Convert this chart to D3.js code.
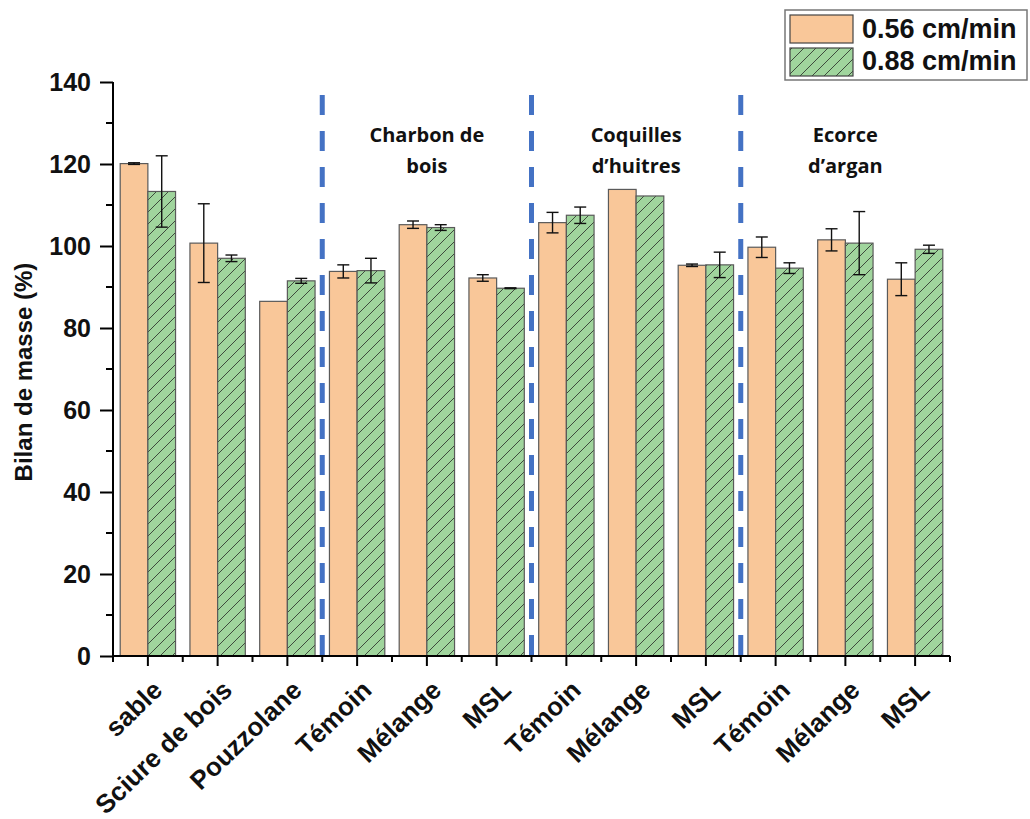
<!DOCTYPE html>
<html>
<head>
<meta charset="utf-8">
<script src="https://cdn.jsdelivr.net/npm/d3@7"></script>
<style>
  html, body { margin: 0; padding: 0; background: #fff; }
  svg { display: block; }
</style>
</head>
<body>
<script>
// ---------- data ----------
const categories = ["sable", "Sciure de bois", "Pouzzolane", "Témoin", "Mélange", "MSL",
                    "Témoin", "Mélange", "MSL", "Témoin", "Mélange", "MSL"];
const seriesNames = ["0.56 cm/min", "0.88 cm/min"];
const values056 = [120.1, 100.7, 86.5, 93.8, 105.2, 92.2, 105.7, 113.8, 95.3, 99.7, 101.5, 91.9];
const errors056 = [0.2, 9.6, 0, 1.6, 0.9, 0.8, 2.5, 0, 0.3, 2.5, 2.7, 4.0];
const values088 = [113.3, 97.0, 91.5, 94.0, 104.5, 89.7, 107.5, 112.2, 95.4, 94.6, 100.7, 99.2];
const errors088 = [8.7, 0.8, 0.6, 3.0, 0.7, 0.1, 2.0, 0, 3.1, 1.3, 7.7, 1.0];
const yTicks = [0, 20, 40, 60, 80, 100, 120, 140];
const yMinorTicks = [10, 30, 50, 70, 90, 110, 130];
const dividerIndices = [3, 6, 9];
const groupLabels = [["Charbon de", "bois"], ["Coquilles", "d’huitres"], ["Ecorce", "d’argan"]];
const groupCenters = [4, 7, 10];
const yLabel = "Bilan de masse (%)";

// ---------- layout ----------
const W = 1030, H = 819;
const pLeft = 113, pRight = 950, pTop = 82, pBottom = 656;
const axisFont = "'Liberation Sans', Arial, sans-serif";

const svg = d3.select("body").append("svg").attr("width", W).attr("height", H);

const defs = svg.append("defs");
const pat = defs.append("pattern").attr("id", "hatch")
  .attr("patternUnits", "userSpaceOnUse").attr("width", 12).attr("height", 12);
pat.append("rect").attr("width", 12).attr("height", 12).attr("fill", "#a0d59d");
pat.append("path").attr("d", "M-1,13 L13,-1 M-3,3 L3,-3 M9,15 L15,9")
  .attr("stroke", "#1e1e1e").attr("stroke-width", 0.75);

const x = d3.scaleBand().domain(d3.range(categories.length)).range([pLeft, pRight]).padding(0);
const xSub = d3.scaleBand().domain([0, 1]).range([0, x.bandwidth()]).paddingInner(0).paddingOuter(0.26);
const y = d3.scaleLinear().domain([0, 140]).range([pBottom, pTop]);

const fills = ["#f9c799", "url(#hatch)"];
const series = [
  { vals: values056, errs: errors056 },
  { vals: values088, errs: errors088 }
];

// bars
series.forEach((s, si) => {
  const g = svg.append("g");
  g.selectAll("rect").data(s.vals).join("rect")
    .attr("x", (d, i) => x(i) + xSub(si))
    .attr("y", d => y(d))
    .attr("width", xSub.bandwidth())
    .attr("height", d => y(0) - y(d))
    .attr("fill", fills[si])
    .attr("stroke", "#5a5a5a").attr("stroke-width", 1.2);
});

// error bars
series.forEach((s, si) => {
  const g = svg.append("g").attr("stroke", "#111").attr("stroke-width", 1.4);
  s.vals.forEach((v, i) => {
    const e = s.errs[i];
    if (!e) return;
    const cx = x(i) + xSub(si) + xSub.bandwidth() / 2;
    g.append("line").attr("x1", cx).attr("x2", cx).attr("y1", y(v + e)).attr("y2", y(v - e));
    g.append("line").attr("x1", cx - 6).attr("x2", cx + 6).attr("y1", y(v + e)).attr("y2", y(v + e));
    g.append("line").attr("x1", cx - 6).attr("x2", cx + 6).attr("y1", y(v - e)).attr("y2", y(v - e));
  });
});

// dashed dividers
svg.append("g").selectAll("line").data(dividerIndices).join("line")
  .attr("x1", d => x(d)).attr("x2", d => x(d))
  .attr("y1", 95).attr("y2", pBottom)
  .attr("stroke", "#4472c4").attr("stroke-width", 5)
  .attr("stroke-dasharray", "20,16");

// group labels
groupLabels.forEach((lines, gi) => {
  const cx = x(groupCenters[gi]) + x.bandwidth() / 2;
  const t = svg.append("text").attr("text-anchor", "middle")
    .attr("font-family", "'Open Sans', sans-serif").attr("font-weight", 700)
    .attr("font-size", 20).attr("fill", "#111");
  lines.forEach((ln, li) => {
    t.append("tspan").attr("x", cx).attr("y", 142 + li * 31).text(ln);
  });
});

// y axis
const yAxis = svg.append("g").attr("transform", `translate(${pLeft},0)`);
yAxis.call(d3.axisLeft(y).tickValues(yTicks).tickSize(13).tickPadding(9).tickFormat(d3.format("d")));
yAxis.append("g").selectAll("line").data(yMinorTicks).join("line")
  .attr("x1", -7).attr("x2", 0).attr("y1", d => y(d)).attr("y2", d => y(d))
  .attr("stroke", "#000").attr("stroke-width", 2);
yAxis.select(".domain").attr("d", `M0,${y(140)}V${y(0)}`).attr("stroke-width", 2);
yAxis.selectAll(".tick line").attr("stroke-width", 2);
yAxis.selectAll(".tick text").attr("font-family", axisFont).attr("font-weight", 700)
  .attr("font-size", 25).attr("fill", "#111");

// x axis
const xAxis = svg.append("g").attr("transform", `translate(0,${pBottom})`);
xAxis.append("line").attr("x1", pLeft).attr("x2", pRight).attr("y1", 0).attr("y2", 0)
  .attr("stroke", "#000").attr("stroke-width", 2);
xAxis.selectAll(".major").data(d3.range(categories.length)).join("line").attr("class", "major")
  .attr("x1", i => x(i) + x.bandwidth() / 2).attr("x2", i => x(i) + x.bandwidth() / 2)
  .attr("y1", 0).attr("y2", 10).attr("stroke", "#000").attr("stroke-width", 2);
xAxis.selectAll(".minor").data(d3.range(categories.length + 1)).join("line").attr("class", "minor")
  .attr("x1", i => pLeft + i * x.bandwidth()).attr("x2", i => pLeft + i * x.bandwidth())
  .attr("y1", 0).attr("y2", 6).attr("stroke", "#000").attr("stroke-width", 2);
xAxis.selectAll("text").data(categories).join("text")
  .attr("transform", (d, i) => `translate(${x(i) + x.bandwidth() / 2 + 16},${36}) rotate(-44)`)
  .attr("text-anchor", "end")
  .attr("font-family", axisFont).attr("font-weight", 700).attr("font-size", 26)
  .attr("fill", "#111")
  .text(d => d);

// y label
svg.append("text")
  .attr("transform", `translate(32,${372}) rotate(-90)`)
  .attr("text-anchor", "middle")
  .attr("font-family", axisFont).attr("font-weight", 700).attr("font-size", 24)
  .attr("fill", "#111")
  .text(yLabel);

// legend
const lg = svg.append("g");
lg.append("rect").attr("x", 785).attr("y", 10).attr("width", 242).attr("height", 70)
  .attr("fill", "#fff").attr("stroke", "#777").attr("stroke-width", 1.5);
seriesNames.forEach((name, i) => {
  lg.append("rect").attr("x", 790).attr("y", 15 + i * 33).attr("width", 63).attr("height", 28)
    .attr("fill", fills[i]).attr("stroke", "#444").attr("stroke-width", 1.2);
  lg.append("text").attr("x", 862).attr("y", 38 + i * 32)
    .attr("font-family", axisFont).attr("font-weight", 700).attr("font-size", 27)
    .attr("fill", "#111").text(name);
});
</script>
</body>
</html>
